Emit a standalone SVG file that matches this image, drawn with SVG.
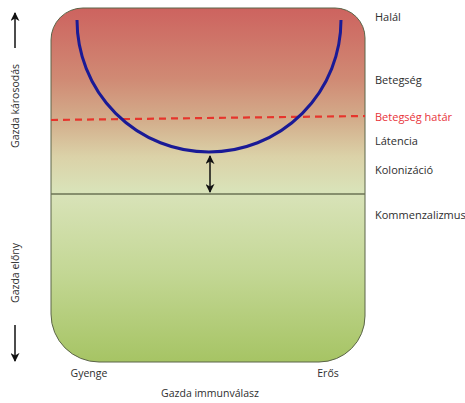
<svg xmlns="http://www.w3.org/2000/svg" width="465" height="403" viewBox="0 0 465 403">
<defs>
<linearGradient id="bg" x1="0" y1="8" x2="0" y2="362" gradientUnits="userSpaceOnUse">
<stop offset="0" stop-color="#cd635f"/>
<stop offset="0.2" stop-color="#d08a74"/>
<stop offset="0.32" stop-color="#d3ae8c"/>
<stop offset="0.42" stop-color="#dbd2a8"/>
<stop offset="0.52" stop-color="#d9e3b9"/>
<stop offset="0.75" stop-color="#c3d794"/>
<stop offset="1" stop-color="#a6c464"/>
</linearGradient>
<marker id="ah" viewBox="0 0 10 10" refX="9" refY="5" markerWidth="6" markerHeight="6" orient="auto-start-reverse">
<path d="M0,0 L10,5 L0,10 L3,5 Z" fill="#111"/>
</marker>
</defs>
<style>
text{font-family:"Open Sans","Liberation Sans",sans-serif;font-size:10.5px;fill:#2e2e2e}
.r{font-size:11px}
.red{fill:#e8333a}
</style>
<g id="panel">
<path d="M83,8 H335 A30,30 0 0 1 365,38 V316 A46,46 0 0 1 319,362 H99 A48,48 0 0 1 51,314 V40 A32,32 0 0 1 83,8 Z" fill="url(#bg)" stroke="#5b6448" stroke-width="1"/>
</g>
<g id="connectors">
<line x1="51" y1="194" x2="365" y2="194" stroke="#6b7355" stroke-width="1.3"/>
<line x1="51" y1="120" x2="365" y2="116" stroke="#e6352c" stroke-width="2.2" stroke-dasharray="7,5"/>
<path d="M77,20 A132,132 0 0 0 341,20" fill="none" stroke="#1a1a96" stroke-width="3"/>
<line x1="210" y1="156" x2="210" y2="192" stroke="#111" stroke-width="1.5" marker-start="url(#ah)" marker-end="url(#ah)"/>
<line x1="15" y1="48" x2="15" y2="13" stroke="#111" stroke-width="1.5" marker-end="url(#ah)"/>
<line x1="15" y1="325" x2="15" y2="361" stroke="#111" stroke-width="1.5" marker-end="url(#ah)"/>
</g>
<g id="labels">
<text class="r" x="375" y="21">Halál</text>
<text class="r" x="375" y="84">Betegség</text>
<text class="r red" x="375" y="121">Betegség határ</text>
<text class="r" x="375" y="145">Látencia</text>
<text class="r" x="375" y="174">Kolonizáció</text>
<text class="r" x="375" y="219">Kommenzalizmus</text>
<text x="89" y="377" text-anchor="middle">Gyenge</text>
<text x="328" y="377" text-anchor="middle">Erős</text>
<text x="210" y="397" text-anchor="middle">Gazda immunválasz</text>
<text transform="translate(19,106) rotate(-90)" text-anchor="middle">Gazda károsodás</text>
<text transform="translate(19,273) rotate(-90)" text-anchor="middle">Gazda előny</text>
</g>
</svg>
